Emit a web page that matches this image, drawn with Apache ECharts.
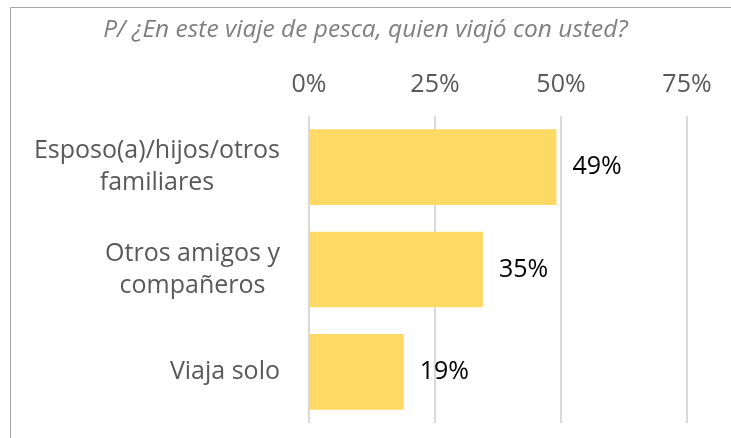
<!DOCTYPE html>
<html>
<head>
<meta charset="utf-8">
<script src="https://cdn.jsdelivr.net/npm/echarts@6/dist/echarts.min.js"></script>
<style>
  html, body { margin: 0; padding: 0; background: #fff; }
  #chart { width: 731px; height: 438px; }
</style>
</head>
<body>
<div id="chart"></div>
<script>
const categories = ['Esposo(a)/hijos/otros\nfamiliares', 'Otros amigos y\ncompañeros', 'Viaja solo'];
const values = [49.1, 34.5, 18.8];
const xTicks = [0, 25, 50, 75];

const FONT = 'Open Sans';

const chart = echarts.init(document.getElementById('chart'), null, { renderer: 'canvas' });

chart.setOption({
  animation: false,
  textStyle: { fontFamily: FONT },
  title: {
    text: 'P/ ¿En este viaje de pesca, quien viajó con usted?',
    left: 'center',
    top: 13,
    textStyle: { fontFamily: FONT, fontStyle: 'italic', fontWeight: 'normal', fontSize: 24.5, color: '#7f7f7f' }
  },
  graphic: [{
    type: 'rect',
    shape: { x: 10.5, y: 7.5, width: 800, height: 500 },
    style: { fill: 'none', stroke: '#a6a6a6', lineWidth: 1 },
    silent: true
  }],
  grid: { left: 309, right: 44, top: 116, bottom: 15 },
  xAxis: {
    type: 'value',
    position: 'top',
    min: xTicks[0],
    max: xTicks[xTicks.length - 1],
    interval: 25,
    axisLine: { show: false },
    axisTick: { show: false },
    axisLabel: { color: '#595959', fontSize: 25, margin: 19, formatter: '{value}%' },
    splitLine: { lineStyle: { color: '#d9d9d9', width: 2 } }
  },
  yAxis: {
    type: 'category',
    inverse: true,
    data: categories,
    axisLine: { show: false },
    axisTick: { show: false },
    axisLabel: {
      margin: 29,
      color: '#595959',
      fontSize: 25,
      lineHeight: 32,
      formatter: (v) => v.split('\n').map((s) => '{c|' + s + '}').join('\n'),
      rich: { c: { align: 'center', fontSize: 25, lineHeight: 32, color: '#595959', fontFamily: FONT } }
    }
  },
  series: [{
    type: 'bar',
    data: values,
    barCategoryGap: '26%',
    itemStyle: { color: '#ffd966' },
    label: {
      show: true,
      position: 'right',
      distance: 16,
      color: '#000',
      fontSize: 25,
      formatter: (p) => Math.round(p.value) + '%'
    }
  }]
});
</script>
</body>
</html>
